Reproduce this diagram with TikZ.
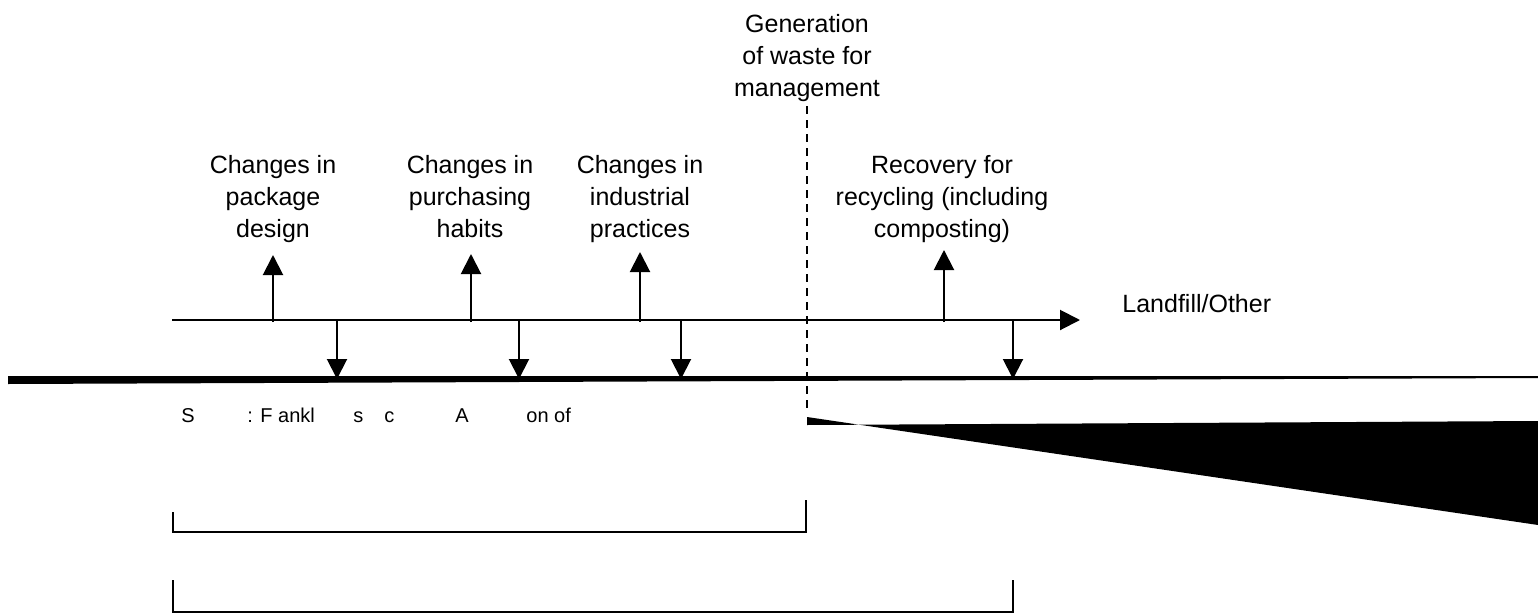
\documentclass[tikz,border=0pt]{standalone}
\usepackage{fontspec}
\setmainfont{Liberation Sans}
\usetikzlibrary{arrows.meta}

\tikzstyle{caption}=[align=center,inner sep=0pt,anchor=north,font=\fontsize{12.5pt}{16pt}\selectfont]
\tikzstyle{source text}=[inner sep=0pt,anchor=base west,font=\fontsize{10pt}{12pt}\selectfont]
\tikzstyle{flow}=[draw,line width=1pt,-{Triangle[length=10pt,width=10pt]}]
\tikzstyle{bracket}=[draw,line width=1pt]

\begin{document}
\begin{tikzpicture}[x=0.5pt,y=-0.5pt]
    \useasboundingbox (0,0) rectangle (1538,616);

    % labels
    \node[caption] (gen) at (807,14) {Generation\\of waste for\\management};
    \foreach \pos/\name/\txt in {273/pack/{Changes in\\package\\design},
                                 470/purch/{Changes in\\purchasing\\habits},
                                 640/indus/{Changes in\\industrial\\practices},
                                 942/recov/{Recovery for\\recycling (including\\composting)}}
        \node[caption] (\name) at (\pos,155) {\txt};
    \node[caption,anchor=base west] (landfill) at (1122,312) {Landfill/Other};

    % main flow
    \coordinate (flowstart) at (172,320);
    \coordinate (flowend) at (1080,320);
    \path[flow] (flowstart) -- (flowend);
    \foreach \x/\top/\name in {273/255/pack, 471/254/purch, 640/252/indus, 944/250/recov}
    {
        \coordinate (\name base) at (\x,322);
        \coordinate (\name tip) at (\x,\top);
        \path[flow] (\name base) -- (\name tip);
    }
    \foreach \x/\name in {337/a, 519/b, 681/c, 1013/d}
    {
        \coordinate (down \name) at (\x,319);
        \coordinate (ground \name) at (\x,379);
        \path[flow] (down \name) -- (ground \name);
    }
    \fill (8,376) -- (1538,376) -- (1538,378) -- (8,384) -- cycle;

    % cut-off point and wedge
    \coordinate (genfoot) at (807,413);
    \draw[dashed,dash pattern=on 4pt off 3pt,line width=0.8pt] ([yshift=-2pt]gen.south) -- (genfoot);
    \fill (807,417) -- (807,425) -- (1538,421) -- (1538,525) -- cycle;

    % source line
    \foreach \x/\txt [count=\i] in {181/S, 247/{: F ankl}, 353/s, 384/c, 455/A, 526/{on of}}
        \node[source text] (src\i) at (\x,422) {\txt};

    % brackets
    \draw[bracket] (173,512) -- (173,532) -- (806,532) -- (806,500);
    \draw[bracket] (173,580) -- (173,612) -- (1013,612) -- (1013,580);
\end{tikzpicture}
\end{document}
